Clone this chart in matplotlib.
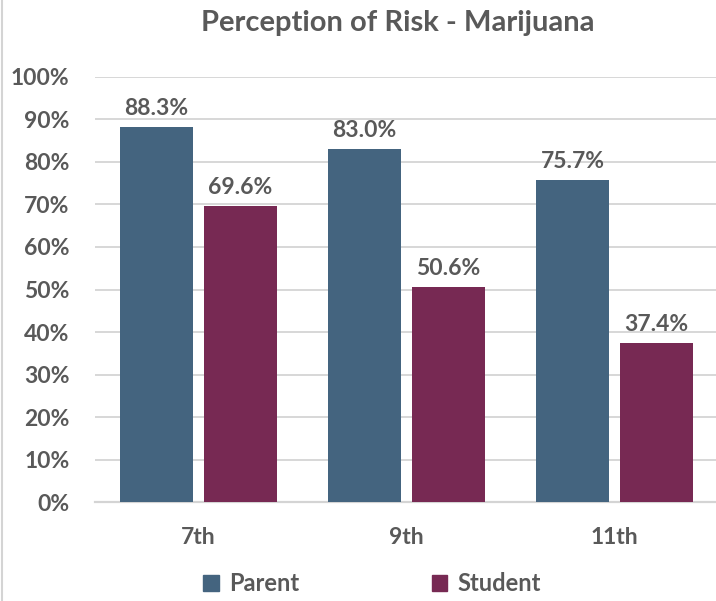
import matplotlib

matplotlib.use("Agg")
import matplotlib.pyplot as plt
import numpy as np
from matplotlib.patches import Patch

grades = ["7th", "9th", "11th"]
parent = [88.3, 83.0, 75.7]
student = [69.6, 50.6, 37.4]
yticks = [0, 10, 20, 30, 40, 50, 60, 70, 80, 90, 100]

PARENT_C = "#44647F"
STUDENT_C = "#772953"
TEXT_C = "#595959"

plt.rcParams["font.family"] = ["Lato", "DejaVu Sans"]
plt.rcParams["font.weight"] = "bold"

fig = plt.figure(figsize=(7.16, 6.01), dpi=100)
ax = fig.add_axes([0.132, 0.1647, 0.8715, 0.7072])

x = np.arange(len(grades))
w = 0.351
off = 0.202
ax.bar(x - off, parent, width=w, color=PARENT_C, zorder=3)
ax.bar(x + off, student, width=w, color=STUDENT_C, zorder=3)

for xi, v in zip(x - off, parent):
    ax.text(xi, v + 1.9, f"{v:.1f}%", ha="center", va="bottom",
            fontsize=16.5, fontweight="bold", color=TEXT_C)
for xi, v in zip(x + off, student):
    ax.text(xi, v + 1.9, f"{v:.1f}%", ha="center", va="bottom",
            fontsize=16.5, fontweight="bold", color=TEXT_C)

ax.set_xlim(-0.5, 2.5)
ax.set_ylim(0, 100)
ax.set_yticks(yticks)
ax.set_yticklabels([f"{t}%" for t in yticks])
ax.set_xticks(x)
ax.set_xticklabels(grades)
ax.tick_params(axis="both", length=0, labelsize=16.5, labelcolor=TEXT_C)
ax.tick_params(axis="x", pad=18)
ax.tick_params(axis="y", pad=18)
ax.grid(axis="y", color="#D4D4D4", linewidth=1.3, zorder=0)
for s in ["top", "right", "left"]:
    ax.spines[s].set_visible(False)
ax.spines["bottom"].set_color("#D4D4D4")
ax.spines["bottom"].set_linewidth(1.6)

fig.text(0.556, 0.962, "Perception of Risk - Marijuana", ha="center", va="center",
         fontsize=21, fontweight="bold", color=TEXT_C)

handles = [Patch(color=PARENT_C, label="Parent"), Patch(color=STUDENT_C, label="Student")]
fig.legend(handles=handles, loc="center", bbox_to_anchor=(0.52, 0.029), ncol=2,
           frameon=False, fontsize=17, labelcolor=TEXT_C, handlelength=0.65,
           handleheight=0.65, handletextpad=0.45, columnspacing=5.6)

# thin frame line at the left edge, as in the source
fig.add_artist(plt.Line2D([0.003, 0.003], [0, 1], transform=fig.transFigure,
                          color="#D4D4D4", linewidth=1.5))

fig.savefig("out.png", dpi=100)
